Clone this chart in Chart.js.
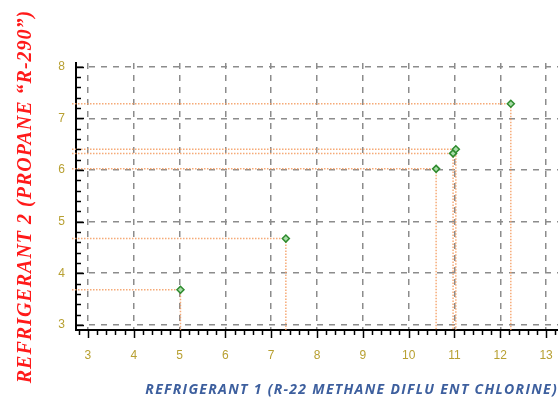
<!DOCTYPE html>
<html lang="en">
<head>
    <meta charset="UTF-8">
    <title>Refrigerant chart</title>
    <style>
        body, html {
            margin: 0;
            background: white;
        }
        #wrap {
            width: 558px;
            height: 402px;
        }
    </style>
    <script src="https://cdn.jsdelivr.net/npm/chart.js"></script>
</head>
<body>
    <div id="wrap"><canvas id="chart"></canvas></div>

    <script>
        // values
        const refrigerant1 = [5.02, 7.32, 10.6, 10.97, 11.03, 12.23];
        const refrigerant2 = [3.68, 4.67, 6.02, 6.32, 6.40, 7.28];
        const xTicks = [3, 4, 5, 6, 7, 8, 9, 10, 11, 12, 13];
        const yTicks = [3, 4, 5, 6, 7, 8];
        const xRange = [2.74, 13.26];
        const yRange = [2.9, 8.07];

        const xTitle = 'REFRIGERANT 1 (R-22 METHANE DIFLU ENT CHLORINE)';
        const yTitle = 'REFRIGERANT 2 (PROPANE \u201CR-290\u201D)';

        const tickColor = '#b8a032';
        const tickFont = { family: 'Liberation Sans', size: 12 };

        // dotted orange drop lines from every point to both axes
        const dropLines = {
            id: 'dropLines',
            beforeDatasetsDraw(chart) {
                const { ctx, chartArea, scales } = chart;
                ctx.save();
                ctx.strokeStyle = 'rgba(245, 155, 95, 0.85)';
                ctx.lineWidth = 1.5;
                ctx.setLineDash([1.5, 1.5]);
                refrigerant1.forEach((xv, i) => {
                    const px = scales.x.getPixelForValue(xv);
                    const py = scales.y.getPixelForValue(refrigerant2[i]);
                    ctx.beginPath();
                    ctx.moveTo(chartArea.left - 4, py);
                    ctx.lineTo(px, py);
                    ctx.moveTo(px, py);
                    ctx.lineTo(px, chartArea.bottom);
                    ctx.stroke();
                });
                ctx.restore();
            }
        };

        // major + minor tick marks, and both axis titles
        const axisDecor = {
            id: 'axisDecor',
            afterDraw(chart) {
                const { ctx, chartArea, scales } = chart;
                ctx.save();
                ctx.strokeStyle = '#000';
                ctx.lineWidth = 1.5;
                ctx.setLineDash([]);
                for (let k = Math.ceil(xRange[0] * 5); k <= Math.floor(xRange[1] * 5); k++) {
                    const len = (k % 5 === 0) ? 8 : 5;
                    const px = Math.round(scales.x.getPixelForValue(k / 5)) + 0.5;
                    ctx.beginPath();
                    ctx.moveTo(px, chartArea.bottom);
                    ctx.lineTo(px, chartArea.bottom + len);
                    ctx.stroke();
                }
                for (let k = Math.ceil(yRange[0] * 5); k <= Math.floor(yRange[1] * 5); k++) {
                    const len = (k % 5 === 0) ? 8 : 5;
                    const py = Math.round(scales.y.getPixelForValue(k / 5)) + 0.5;
                    ctx.beginPath();
                    ctx.moveTo(chartArea.left, py);
                    ctx.lineTo(chartArea.left + len, py);
                    ctx.stroke();
                }

                // x title, right aligned at the plot edge
                ctx.fillStyle = '#3d5f9e';
                ctx.font = 'italic bold 14px "Open Sans"';
                ctx.letterSpacing = '1.3px';
                ctx.textAlign = 'right';
                ctx.textBaseline = 'middle';
                ctx.fillText(xTitle, chartArea.right, 390);

                // y title, rotated and centred on the plot
                ctx.translate(26, (chartArea.top + chartArea.bottom) / 2);
                ctx.rotate(-Math.PI / 2);
                ctx.fillStyle = '#ff1a1a';
                ctx.font = 'italic bold 20px "Liberation Serif"';
                ctx.letterSpacing = '1px';
                ctx.textAlign = 'center';
                ctx.fillText(yTitle, 0, 0);
                ctx.restore();
            }
        };

        const ctx = document.getElementById('chart').getContext('2d');
        new Chart(ctx, {
            type: 'scatter',
            data: {
                datasets: [{
                    data: refrigerant1.map((x, i) => ({ x: x, y: refrigerant2[i] })),
                    pointStyle: 'rectRot',
                    pointRadius: 3.5,
                    pointBorderWidth: 1.5,
                    borderColor: '#2e8b2e',
                    backgroundColor: '#a8dca8'
                }]
            },
            options: {
                responsive: true,
                maintainAspectRatio: false,
                animation: false,
                layout: { autoPadding: false, padding: { top: 63, right: 0, bottom: 0, left: 0 } },
                plugins: {
                    legend: { display: false },
                    tooltip: { enabled: false }
                },
                scales: {
                    x: {
                        type: 'linear',
                        min: xRange[0],
                        max: xRange[1],
                        afterBuildTicks: (scale) => { scale.ticks = xTicks.map(v => ({ value: v })); },
                        afterFit: (scale) => {
                            scale.height = 72;
                            scale.paddingLeft = 0;
                            scale.paddingRight = 0;
                        },
                        border: { display: true, color: '#000', width: 2, dash: [6, 6] },
                        grid: {
                            drawTicks: false,
                            color: '#8c8c8c',
                            lineWidth: 1.5
                        },
                        ticks: {
                            color: tickColor,
                            font: tickFont,
                            padding: 18,
                            maxRotation: 0
                        }
                    },
                    y: {
                        type: 'linear',
                        min: yRange[0],
                        max: yRange[1],
                        afterBuildTicks: (scale) => { scale.ticks = yTicks.map(v => ({ value: v })); },
                        afterFit: (scale) => {
                            scale.width = 76;
                            scale.paddingTop = 0;
                            scale.paddingBottom = 0;
                        },
                        border: { display: true, color: '#000', width: 2, dash: [6, 6] },
                        grid: {
                            drawTicks: false,
                            color: '#8c8c8c',
                            lineWidth: 1.5
                        },
                        ticks: {
                            color: tickColor,
                            font: tickFont,
                            padding: 11
                        }
                    }
                }
            },
            plugins: [dropLines, axisDecor]
        });
    </script>
</body>
</html>
